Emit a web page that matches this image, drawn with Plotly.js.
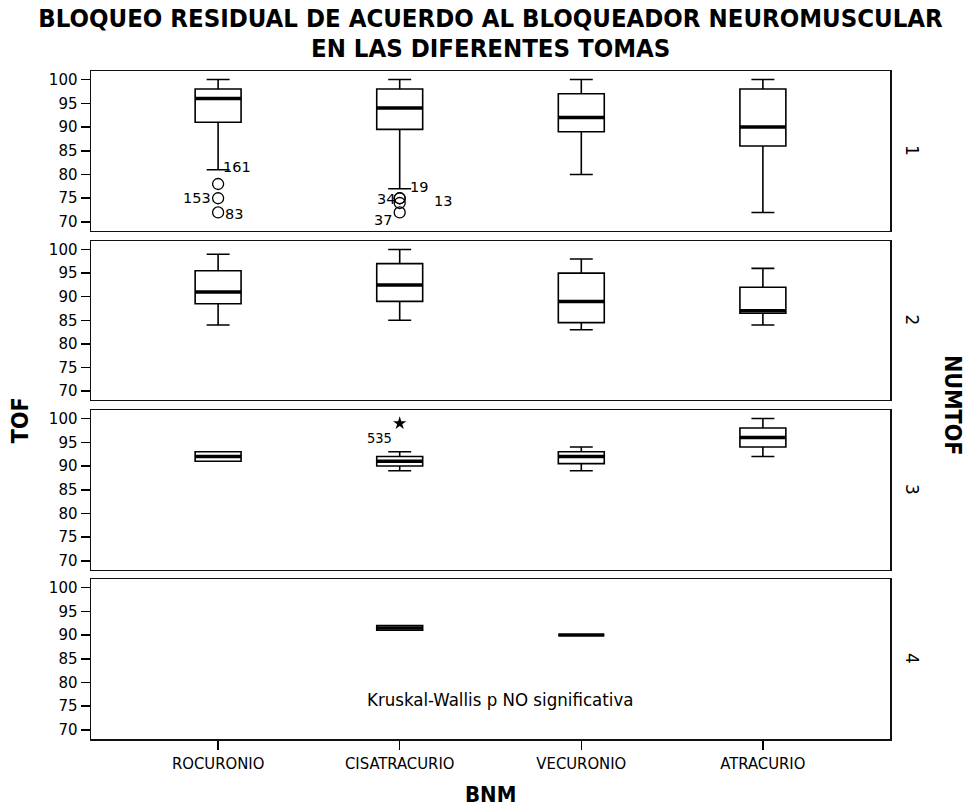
<!DOCTYPE html>
<html>
<head>
<meta charset="utf-8">
<script src="https://cdn.plot.ly/plotly-3.0.1.min.js"></script>
<style>html,body{margin:0;padding:0;background:#fff;}</style>
</head>
<body>
<div id="chart" style="width:970px;height:806px;"></div>
<script>
// ---------------- DATA ----------------
const categories = ['ROCURONIO', 'CISATRACURIO', 'VECURONIO', 'ATRACURIO'];
const tomas = ['1', '2', '3', '4'];
const yTicks = [70, 75, 80, 85, 90, 95, 100];

// box statistics per toma (rows) and category (columns); null = no data
const lowerWhisker = [[81, 77, 80, 72], [84, 85, 83, 84], [91, 89, 89, 92], [null, 91, 90, null]];
const q1Values     = [[91, 89.5, 89, 86], [88.5, 89, 84.5, 86.5], [91, 90, 90.5, 94], [null, 91, 90, null]];
const medianValues = [[96, 94, 92, 90], [91, 92.5, 89, 87], [92, 91, 92, 96], [null, 91.5, 90, null]];
const q3Values     = [[98, 98, 97, 98], [95.5, 97, 95, 92], [93, 92, 93, 98], [null, 92, 90, null]];
const upperWhisker = [[100, 100, 100, 100], [99, 100, 98, 96], [93, 93, 94, 100], [null, 92, 90, null]];

// outliers (o) and extremes (*)
const outlierToma  = [1, 1, 1, 1, 1, 1, 1, 3];
const outlierCat   = [0, 0, 0, 1, 1, 1, 1, 1];
const outlierValue = [78, 75, 72, 75, 75, 74, 72, 99];
const outlierCase  = ['161', '153', '83', '34', '19', '13', '37', '535'];
const outlierKind  = ['o', 'o', 'o', 'o', 'o', 'o', 'o', '*'];

const titleLine1 = 'BLOQUEO RESIDUAL DE ACUERDO AL BLOQUEADOR NEUROMUSCULAR';
const titleLine2 = 'EN LAS DIFERENTES TOMAS';
const noteText = 'Kruskal-Wallis p NO significativa';

// ---------------- STYLE ----------------
const condensed = '"DejaVu Sans Condensed", "Liberation Sans Narrow", "DejaVu Sans", sans-serif';
const wide = '"DejaVu Sans", Verdana, sans-serif';
// label placement (px) for each outlier label: [xanchor, xshift, yshift]
const labelPlace = [['left', 3, 17], ['right', -5, 0], ['left', 5, -2], ['right', -3, -1],
                    ['left', 8, 11], ['left', 32, 2], ['right', -6, -8], ['right', -6, -15]];
const domains = [[0.7605, 1], [0.5075, 0.7455], [0.253, 0.4925], [0, 0.2395]];
const boxW = 0.253;

const traces = [];
const annotations = [];
const layout = {
  width: 970, height: 806,
  margin: {l: 91, r: 80, t: 71, b: 67},
  paper_bgcolor: '#fff', plot_bgcolor: '#fff',
  showlegend: false,
  title: {
    text: '<b>' + titleLine1 + '</b>',
    font: {family: condensed, size: 25.5, color: '#000'},
    x: 0.5, xref: 'paper', xanchor: 'center',
    y: 0.9775, yref: 'container', yanchor: 'middle'
  }
};

for (let p = 0; p < 4; p++) {
  const s = p === 0 ? '' : String(p + 1);
  const xs = [], lo = [], qa = [], me = [], qb = [], up = [];
  categories.forEach((c, i) => {
    if (medianValues[p][i] !== null) {
      xs.push(i); lo.push(lowerWhisker[p][i]); qa.push(q1Values[p][i]);
      me.push(medianValues[p][i]); qb.push(q3Values[p][i]); up.push(upperWhisker[p][i]);
    }
  });
  traces.push({
    type: 'box', x: xs, q1: qa, median: me, q3: qb, lowerfence: lo, upperfence: up,
    xaxis: 'x' + s, yaxis: 'y' + s, width: boxW, whiskerwidth: 0.5,
    line: {color: '#000', width: 1.6}, fillcolor: '#fff', boxpoints: false, hoverinfo: 'y'
  });
  // thick median lines
  const mx = [], my = [];
  xs.forEach((x, k) => { mx.push(x - boxW / 2, x + boxW / 2, null); my.push(me[k], me[k], null); });
  traces.push({type: 'scatter', mode: 'lines', x: mx, y: my, xaxis: 'x' + s, yaxis: 'y' + s,
    line: {color: '#000', width: 3.5}, hoverinfo: 'skip'});

  // outliers
  ['o', '*'].forEach(kind => {
    const ox = [], oy = [];
    outlierValue.forEach((v, k) => {
      if (outlierToma[k] === p + 1 && outlierKind[k] === kind) { ox.push(outlierCat[k]); oy.push(v); }
    });
    if (ox.length) {
      traces.push({type: 'scatter', mode: 'markers', x: ox, y: oy, xaxis: 'x' + s, yaxis: 'y' + s,
        marker: kind === 'o'
          ? {symbol: 'circle-open', size: 11, color: '#000', line: {width: 1.3, color: '#000'}}
          : {symbol: 'star', size: 10, color: '#000'},
        hoverinfo: 'y'});
    }
  });

  layout['xaxis' + s] = {
    domain: [0, 1], range: [-0.7, 3.7], anchor: 'y' + s,
    tickmode: 'array', tickvals: categories.map((c, i) => i), ticktext: categories,
    showticklabels: p === 3, ticks: p === 3 ? 'outside' : '', ticklen: 9, tickwidth: 1.5, tickcolor: '#000',
    tickfont: {family: condensed, size: 16.5, color: '#000'},
    showline: true, mirror: true, linecolor: '#111', linewidth: 1.5,
    showgrid: false, zeroline: false, fixedrange: true
  };
  layout['yaxis' + s] = {
    domain: domains[p], range: [68.1, 101.8], anchor: 'x' + s,
    tickmode: 'array', tickvals: yTicks, ticks: 'outside', ticklen: 9, tickwidth: 1.5, tickcolor: '#000',
    tickfont: {family: wide, size: 15, color: '#000'},
    showline: true, mirror: true, linecolor: '#111', linewidth: 1.5,
    showgrid: false, zeroline: false, fixedrange: true
  };
  // panel label (NUMTOF value)
  annotations.push({xref: 'paper', yref: 'paper', x: 1.0275, y: (domains[p][0] + domains[p][1]) / 2,
    xanchor: 'center', yanchor: 'middle',
    text: tomas[p], textangle: 90, showarrow: false, font: {family: wide, size: 17, color: '#000'}});
}

// second title line
annotations.push({xref: 'paper', yref: 'paper', x: 0.5, y: 1.0344, xanchor: 'center', yanchor: 'middle',
  text: '<b>' + titleLine2 + '</b>', showarrow: false, font: {family: condensed, size: 25.5, color: '#000'}});

// outlier labels
outlierCase.forEach((lab, k) => {
  const s = outlierToma[k] === 1 ? '' : String(outlierToma[k]);
  annotations.push({xref: 'x' + s, yref: 'y' + s, x: outlierCat[k], y: outlierValue[k], text: lab,
    showarrow: false, xanchor: labelPlace[k][0], xshift: labelPlace[k][1], yshift: labelPlace[k][2],
    font: {family: outlierToma[k] === 1 ? wide : condensed, size: 14.5, color: '#000'}});
});

// note in panel 4
annotations.push({xref: 'x4', yref: 'y4', x: 1.55, y: 76.4, text: noteText, showarrow: false,
  font: {family: condensed, size: 18.5, color: '#000'}});

// axis titles
annotations.push({xref: 'paper', yref: 'paper', x: -0.0895, y: 0.478, xanchor: 'center', yanchor: 'middle',
  text: '<b>TOF</b>', textangle: -90, showarrow: false, font: {family: condensed, size: 23, color: '#000'}});
annotations.push({xref: 'paper', yref: 'paper', x: 1.079, y: 0.5, xanchor: 'center', yanchor: 'middle',
  text: '<b>NUMTOF</b>', textangle: 90, showarrow: false, font: {family: condensed, size: 23, color: '#000'}});
annotations.push({xref: 'paper', yref: 'paper', x: 0.5, y: -0.0835, xanchor: 'center', yanchor: 'middle',
  text: '<b>BNM</b>', showarrow: false, font: {family: condensed, size: 22, color: '#000'}});

layout.annotations = annotations;

Plotly.newPlot('chart', traces, layout, {displayModeBar: false, staticPlot: true});
</script>
</body>
</html>
